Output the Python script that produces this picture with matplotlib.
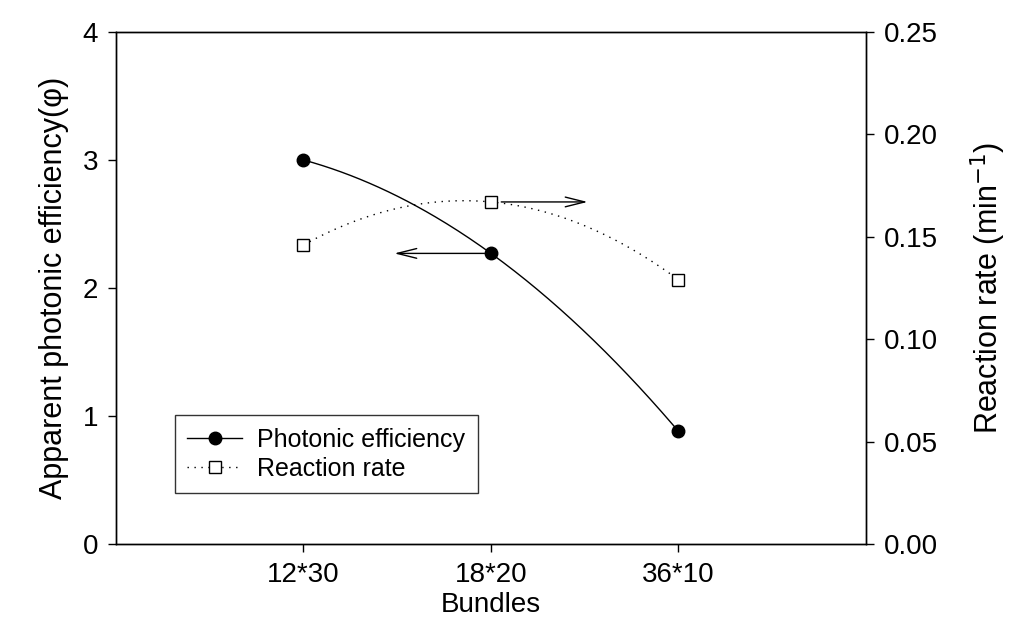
import numpy as np
import matplotlib
matplotlib.use("Agg")
import matplotlib.pyplot as plt

plt.rcParams['font.family'] = ['Liberation Sans', 'DejaVu Sans']

bundles = ['12*30', '18*20', '36*10']
efficiency = [3.0, 2.27, 0.88]
rate = [0.146, 0.167, 0.129]

x = np.arange(1, len(bundles) + 1)
xs = np.linspace(x[0], x[-1], 200)

fig = plt.figure(figsize=(10.12, 6.39), dpi=100)
ax = fig.add_axes([0.1146, 0.1487, 0.7411, 0.8013])
ax2 = ax.twinx()

# smooth curves through the points
ax.plot(xs, np.polyval(np.polyfit(x, efficiency, 2), xs), color='black', lw=1.0)
ax2.plot(xs, np.polyval(np.polyfit(x, rate, 2), xs), color='black', lw=1.0,
         ls=(0, (1, 4)))
ax.plot(x, efficiency, 'o', color='black', ms=9)
ax2.plot(x, rate, 's', mfc='white', mec='black', ms=9, mew=1.0)

# legend handles
h1, = ax.plot([], [], '-o', color='black', ms=9, lw=1.0, label='Photonic efficiency')
h2, = ax.plot([], [], ls=(0, (1, 4)), marker='s', color='black', mfc='white',
              ms=9, lw=1.0, label='Reaction rate')
leg = ax.legend(handles=[h1, h2], loc='lower left', bbox_to_anchor=(0.062, 0.075),
                fancybox=False, edgecolor='black', fontsize=18, handlelength=2.2,
                borderpad=0.5, handletextpad=0.6, labelspacing=0.2)
leg.get_frame().set_linewidth(1.0)

# arrows showing which axis each series uses
ax.annotate('', xy=(1.47, efficiency[1]), xytext=(1.98, efficiency[1]),
            arrowprops=dict(arrowstyle='->,head_length=1.4,head_width=0.35',
                            color='black', lw=1.0))
ax2.annotate('', xy=(2.53, rate[1]), xytext=(2.04, rate[1]),
             arrowprops=dict(arrowstyle='->,head_length=1.4,head_width=0.35',
                             color='black', lw=1.0))

ax.set_xlim(0, 4)
ax.set_ylim(0, 4)
ax2.set_ylim(0, 0.25)
ax.set_xticks(x)
ax.set_xticklabels(bundles)
ax.set_yticks([0, 1, 2, 3, 4])
ax2.set_yticks([0, 0.05, 0.10, 0.15, 0.20, 0.25])
ax2.set_yticklabels(['0.00', '0.05', '0.10', '0.15', '0.20', '0.25'])

for a in (ax, ax2):
    a.tick_params(direction='out', length=6, width=1.0, labelsize=20, pad=7)
    for s in a.spines.values():
        s.set_linewidth(1.0)

ax.set_xlabel('Bundles', fontsize=20, labelpad=3)
ax.set_ylabel('Apparent photonic efficiency(\u03c6)', fontsize=22, labelpad=10)
ax2.set_ylabel('Reaction rate (min$^{-1}$)', fontsize=22, labelpad=22)

fig.savefig('out.png', dpi=100)
